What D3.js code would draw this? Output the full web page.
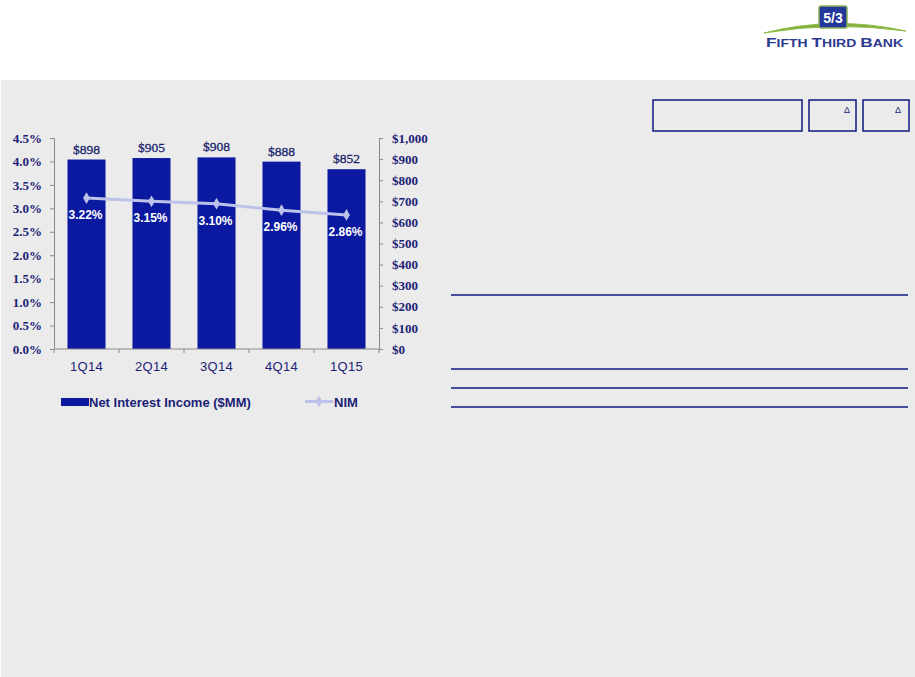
<!DOCTYPE html>
<html>
<head>
<meta charset="utf-8">
<script src="https://cdn.jsdelivr.net/npm/d3@7"></script>
<style>
  body { margin: 0; background: #fff; }
  svg { display: block; }
</style>
</head>
<body>
<svg class="viz" width="915" height="677"></svg>
<script>
// chart data
var quarters = ["1Q14", "2Q14", "3Q14", "4Q14", "1Q15"];
var nii = [898, 905, 908, 888, 852];          // $MM, bars (right axis)
var nim = [3.22, 3.15, 3.10, 2.96, 2.86];     // %, line (left axis)
var pctTicks = [0, 0.5, 1, 1.5, 2, 2.5, 3, 3.5, 4, 4.5];
var dollarTicks = [0, 100, 200, 300, 400, 500, 600, 700, 800, 900, 1000];

var navy = "#1b2276",
    barBlue = "#0a199f",
    nimColor = "#bcc2ea",
    axisGray = "#8a8a8a";

var svg = d3.select(".viz");

// grey panel under the header
svg.append("rect")
  .attr("x", 1).attr("y", 80)
  .attr("width", 914).attr("height", 597)
  .attr("fill", "#ebebeb");

// logo
var logo = svg.append("g");
logo.append("path")
  .attr("d", "M764,33 Q834,15 906,31 Q834,21 764,33 Z")
  .attr("fill", "#7fae3a")
  .attr("stroke", "#8dbb45")
  .attr("stroke-width", 1);
logo.append("rect")
  .attr("x", 819).attr("y", 6)
  .attr("width", 28).attr("height", 22)
  .attr("rx", 2)
  .attr("fill", "#23399a")
  .attr("stroke", "#8fae5a")
  .attr("stroke-width", 1.5);
logo.append("text")
  .attr("x", 833).attr("y", 23)
  .attr("text-anchor", "middle")
  .attr("font-family", "Liberation Sans, Arial, sans-serif")
  .attr("font-weight", "bold")
  .attr("font-size", "14px")
  .attr("fill", "#fff")
  .text("5/3");
var lt = logo.append("text")
  .attr("x", 766).attr("y", 47)
  .attr("font-family", "Liberation Sans, Arial, sans-serif")
  .attr("font-weight", "bold")
  .attr("fill", "#2b3a8e")
  .attr("textLength", 137)
  .attr("lengthAdjust", "spacingAndGlyphs");
[["F", "IFTH "], ["T", "HIRD "], ["B", "ANK"]].forEach(function (w) {
  lt.append("tspan").attr("font-size", "13px").text(w[0]);
  lt.append("tspan").attr("font-size", "10.5px").text(w[1]);
});

// table header boxes on the right
var boxes = [[653, 149], [809, 47], [863, 46]];
svg.selectAll("rect.box")
  .data(boxes)
  .enter()
  .append("rect")
  .attr("class", "box")
  .attr("x", function (d) { return d[0]; })
  .attr("y", 100)
  .attr("width", function (d) { return d[1]; })
  .attr("height", 31)
  .attr("fill", "none")
  .attr("stroke", "#0f1a80")
  .attr("stroke-width", 1.5);
svg.selectAll("text.delta")
  .data([847, 898])
  .enter()
  .append("text")
  .attr("class", "delta")
  .attr("x", function (d) { return d; })
  .attr("y", 113)
  .attr("text-anchor", "middle")
  .attr("font-family", "Liberation Sans, Arial, sans-serif")
  .attr("font-size", "9px")
  .attr("fill", navy)
  .text("\u0394");

// table rules
svg.selectAll("line.rule")
  .data([295, 369, 388, 407])
  .enter()
  .append("line")
  .attr("class", "rule")
  .attr("x1", 451).attr("x2", 908)
  .attr("y1", function (d) { return d; })
  .attr("y2", function (d) { return d; })
  .attr("stroke", "#0f1a80")
  .attr("stroke-width", 1.3);

// chart frame
var plotLeft = 54, plotRight = 379, plotTop = 138, plotBottom = 349;

var x = d3.scaleBand()
  .domain(quarters)
  .range([plotLeft, plotRight])
  .paddingInner(0.415)
  .paddingOuter(0.2075);

var yPct = d3.scaleLinear().domain([0, 4.5]).range([plotBottom, plotTop]);
var yUsd = d3.scaleLinear().domain([0, 1000]).range([plotBottom, plotTop]);

var chart = svg.append("g");

// bars
chart.selectAll("rect.bar")
  .data(nii)
  .enter()
  .append("rect")
  .attr("class", "bar")
  .attr("x", function (d, i) { return x(quarters[i]); })
  .attr("y", function (d) { return yUsd(d); })
  .attr("width", x.bandwidth())
  .attr("height", function (d) { return plotBottom - yUsd(d); })
  .attr("fill", barBlue);

chart.selectAll("text.barlabel")
  .data(nii)
  .enter()
  .append("text")
  .attr("class", "barlabel")
  .attr("x", function (d, i) { return x(quarters[i]) + x.bandwidth() / 2; })
  .attr("y", function (d) { return yUsd(d) - 6; })
  .attr("text-anchor", "middle")
  .attr("font-family", "Liberation Serif, Times New Roman, serif")
  .attr("font-size", "13.5px")
  .attr("fill", "#1a1f6c")
  .attr("stroke", "#1a1f6c")
  .attr("stroke-width", 0.3)
  .text(function (d) { return "$" + d; });

// axes
var axisLeft = d3.axisLeft(yPct)
  .tickValues(pctTicks)
  .tickSize(4)
  .tickPadding(8)
  .tickFormat(function (d) { return d.toFixed(1) + "%"; });
var axisRight = d3.axisRight(yUsd)
  .tickValues(dollarTicks)
  .tickSize(4)
  .tickPadding(9)
  .tickFormat(function (d) { return "$" + d3.format(",")(d); });

var gl = chart.append("g")
  .attr("transform", "translate(" + plotLeft + ",0)")
  .call(axisLeft);
var gr = chart.append("g")
  .attr("transform", "translate(" + plotRight + ",0)")
  .call(axisRight);
[gl, gr].forEach(function (g) {
  g.select(".domain").attr("stroke", axisGray);
  g.selectAll(".tick line").attr("stroke", axisGray);
  g.selectAll(".tick text")
    .attr("font-family", "Liberation Serif, Times New Roman, serif")
    .attr("font-weight", "bold")
    .attr("font-size", "13px")
    .attr("fill", navy);
});

// category axis with ticks at band edges
var edges = quarters.map(function (q) { return x(q) - x.step() * x.paddingInner() / 2; });
edges.push(plotRight);
chart.append("line")
  .attr("x1", plotLeft).attr("x2", plotRight)
  .attr("y1", plotBottom).attr("y2", plotBottom)
  .attr("stroke", axisGray);
chart.selectAll("line.xtick")
  .data(edges)
  .enter()
  .append("line")
  .attr("class", "xtick")
  .attr("x1", function (d) { return d; })
  .attr("x2", function (d) { return d; })
  .attr("y1", plotBottom).attr("y2", plotBottom + 4)
  .attr("stroke", axisGray);
chart.selectAll("text.cat")
  .data(quarters)
  .enter()
  .append("text")
  .attr("class", "cat")
  .attr("x", function (d) { return x(d) + x.bandwidth() / 2; })
  .attr("y", plotBottom + 22)
  .attr("text-anchor", "middle")
  .attr("font-family", "Liberation Sans, Arial, sans-serif")
  .attr("font-size", "13px")
  .attr("letter-spacing", "0.3px")
  .attr("fill", navy)
  .text(function (d) { return d; });

// NIM line
var line = d3.line()
  .x(function (d, i) { return x(quarters[i]) + x.bandwidth() / 2; })
  .y(function (d) { return yPct(d); });

chart.append("path")
  .datum(nim)
  .attr("d", line)
  .attr("fill", "none")
  .attr("stroke", nimColor)
  .attr("stroke-width", 3);

var diamond = d3.symbol().type(d3.symbolDiamond).size(40);
chart.selectAll("path.marker")
  .data(nim)
  .enter()
  .append("path")
  .attr("class", "marker")
  .attr("transform", function (d, i) {
    return "translate(" + (x(quarters[i]) + x.bandwidth() / 2) + "," + yPct(d) + ")";
  })
  .attr("d", diamond)
  .attr("fill", nimColor);

chart.selectAll("text.nimlabel")
  .data(nim)
  .enter()
  .append("text")
  .attr("class", "nimlabel")
  .attr("x", function (d, i) { return x(quarters[i]) + x.bandwidth() / 2 - 1; })
  .attr("y", function (d) { return yPct(d) + 21; })
  .attr("text-anchor", "middle")
  .attr("font-family", "Liberation Sans, Arial, sans-serif")
  .attr("font-weight", "bold")
  .attr("font-size", "12px")
  .attr("fill", "#fff")
  .text(function (d) { return d.toFixed(2) + "%"; });

// legend
var legend = chart.append("g").attr("font-family", "Liberation Sans, Arial, sans-serif")
  .attr("font-weight", "bold").attr("font-size", "13px").attr("fill", navy);
legend.append("rect")
  .attr("x", 61).attr("y", 398)
  .attr("width", 28).attr("height", 8)
  .attr("fill", barBlue);
legend.append("text")
  .attr("x", 89).attr("y", 406.5)
  .text("Net Interest Income ($MM)");
legend.append("line")
  .attr("x1", 305).attr("x2", 333)
  .attr("y1", 401.5).attr("y2", 401.5)
  .attr("stroke", nimColor)
  .attr("stroke-width", 3);
legend.append("path")
  .attr("transform", "translate(319,401.5)")
  .attr("d", diamond)
  .attr("fill", nimColor);
legend.append("text")
  .attr("x", 334).attr("y", 406.5)
  .text("NIM");
</script>
</body>
</html>
